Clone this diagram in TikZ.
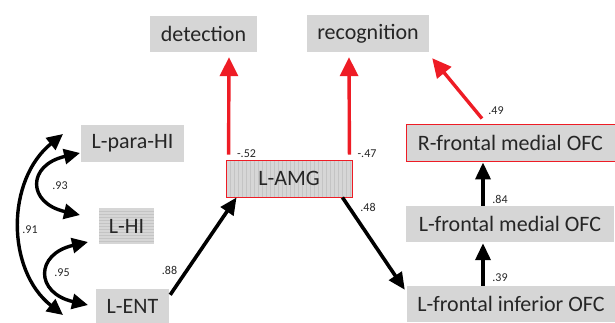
\documentclass[tikz,border=0pt]{standalone}
\usepackage{fontspec}
\setmainfont{Carlito}
\usetikzlibrary{arrows.meta,calc}
\definecolor{boxgray}{HTML}{D6D6D6}
\definecolor{hatch}{HTML}{C4C4C4}
\definecolor{redline}{HTML}{EE1C25}
\definecolor{txt}{HTML}{262626}
\begin{document}
\begin{tikzpicture}[x=1pt,y=-1pt,
  box/.style={fill=boxgray,draw=none,inner sep=0pt,text=txt,font=\fontsize{22}{24}\selectfont},
  redbox/.style={box,draw=redline,line width=0.9pt},
  vhatch/.style={path picture={\foreach \i in {1,...,31}{\draw[hatch,line width=0.35pt] ($(path picture bounding box.north west)+(\i*4,0)$) -- ($(path picture bounding box.south west)+(\i*4,0)$);}}},
  hhatch/.style={path picture={\foreach \i in {1,...,11}{\draw[hatch,line width=0.3pt] ($(path picture bounding box.north west)+(0,\i*3)$) -- ($(path picture bounding box.north east)+(0,\i*3)$);}}},
  blk/.style={line width=3.6pt,black,-{Triangle[length=17pt,width=15pt]}},
  blkd/.style={line width=3.4pt,black,{Triangle[length=16pt,width=15pt]}-{Triangle[length=16pt,width=15pt]}},
  red/.style={line width=3.4pt,redline,-{Triangle[length=19pt,width=18pt]}},
  lab/.style={font=\fontsize{12}{13}\selectfont,text=txt,inner sep=0pt}]
\useasboundingbox (0,0) rectangle (615,322);
% boxes
\node[box,minimum width=107pt,minimum height=36pt] (det) at (203.5,34) {detection};
\node[box,minimum width=122pt,minimum height=37pt] (rec) at (368,33.5) {recognition};
\node[redbox,vhatch,minimum width=126pt,minimum height=37pt] (amg) at (289,178.5) {L-AMG};
\node[box,minimum width=103pt,minimum height=37pt] (para) at (132.5,143.5) {L-para-HI};
\node[box,hhatch,minimum width=55pt,minimum height=36pt] (hi) at (126.5,226) {L-HI};
\node[box,minimum width=73pt,minimum height=34pt] (ent) at (132.5,306) {L-ENT};
\node[redbox,minimum width=209pt,minimum height=37pt] (rfm) at (510.5,142.5) {R-frontal medial OFC};
\node[box,minimum width=208pt,minimum height=36pt] (lfm) at (510,224) {L-frontal medial OFC};
\node[box,minimum width=208pt,minimum height=36pt] (inf) at (511,304) {L-frontal inferior OFC};
% curve end points
\coordinate (o1) at (63,134);
\coordinate (o2) at (63,315);
\coordinate (a1) at (80,153);
\coordinate (a2) at (80,215);
\coordinate (b1) at (88,242);
\coordinate (b2) at (88,305);
% red arrows
\draw[red] ($(amg.north west)+(3,-5)$) -- ($(det.south)+(25.5,5)$);
\draw[red] ($(amg.north east)+(-3,-5)$) -- ($(rec.south)+(-19,5)$);
\draw[red] ($(rfm.north)+(-28.5,-5)$) -- ($(rec.south east)+(3,6)$);
% black arrows
\draw[blk] ($(ent.north east)+(1,6)$) -- ($(amg.south west)+(11,0)$);
\draw[blk] ($(amg.south east)+(-10,0)$) -- ($(inf.north west)+(-2,4)$);
\draw[blk] ($(inf.north)+(-28,0)$) -- ($(lfm.south)+(-27,1)$);
\draw[blk] ($(lfm.north)+(-27,0)$) -- ($(rfm.south)+(-27.5,1)$);
% curved correlations
\draw[blkd] (o1) .. controls (6,180) and (6,270) .. (o2);
\draw[blkd] (a1) .. controls (27,165) and (27,203) .. (a2);
\draw[blkd] (b1) .. controls (35,254) and (35,293) .. (b2);
% labels
\node[lab] (l1) at (246.5,154) {-.52};
\node[lab] (l2) at (367,154) {-.47};
\node[lab] (l3) at (368,207) {.48};
\node[lab] (l4) at (169.5,270) {.88};
\node[lab] (l5) at (496,111) {.49};
\node[lab] (l6) at (500,199) {.84};
\node[lab] (l7) at (500,278) {.39};
\node[lab] (l8) at (60,186) {.93};
\node[lab] (l9) at (30,230) {.91};
\node[lab] (l10) at (62,273) {.95};
\end{tikzpicture}
\end{document}
